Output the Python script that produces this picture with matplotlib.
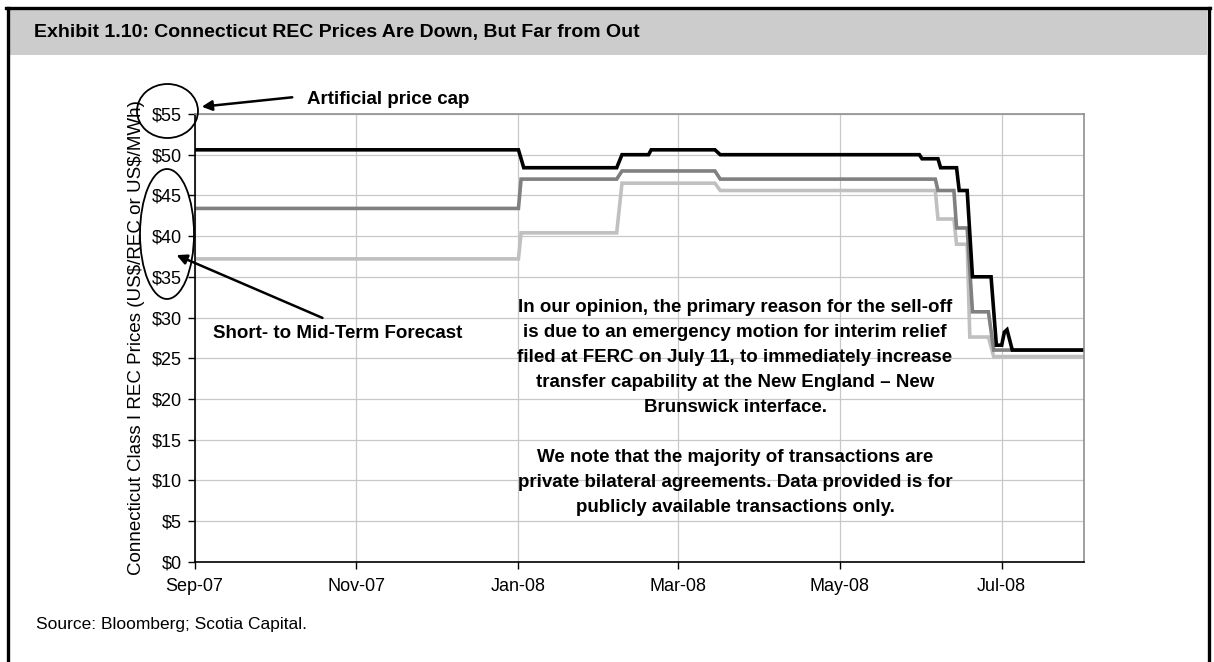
import matplotlib as mpl
mpl.use("Agg")
import matplotlib.pyplot as plt
import matplotlib.dates as mdates
from matplotlib.patches import Ellipse, Rectangle
from matplotlib.lines import Line2D
import pandas as pd

plt.rcParams["font.family"] = ["Liberation Sans", "DejaVu Sans"]

# price breakpoints (US$/REC)
high_dates = ["2007-09-01", "2008-01-01", "2008-01-03", "2008-02-07", "2008-02-09",
              "2008-02-19", "2008-02-20", "2008-03-15", "2008-03-17", "2008-05-31",
              "2008-06-01", "2008-06-07", "2008-06-08", "2008-06-14", "2008-06-15",
              "2008-06-18", "2008-06-20", "2008-06-27", "2008-06-29", "2008-07-01",
              "2008-07-02", "2008-07-03", "2008-07-05", "2008-08-01"]
high_vals = [50.6, 50.6, 48.4, 48.4, 50.0,
             50.0, 50.6, 50.6, 50.0, 50.0,
             49.5, 49.5, 48.4, 48.4, 45.6,
             45.6, 35.0, 35.0, 26.6, 26.6,
             28.2, 28.5, 26.0, 26.0]

mid_dates = ["2007-09-01", "2008-01-01", "2008-01-02", "2008-02-07", "2008-02-09",
             "2008-03-15", "2008-03-17", "2008-06-06", "2008-06-07", "2008-06-13",
             "2008-06-14", "2008-06-18", "2008-06-20", "2008-06-26", "2008-06-28",
             "2008-08-01"]
mid_vals = [43.4, 43.4, 47.0, 47.0, 48.0,
            48.0, 47.0, 47.0, 45.6, 45.6,
            41.0, 41.0, 30.7, 30.7, 26.0,
            26.0]

low_dates = ["2007-09-01", "2008-01-01", "2008-01-02", "2008-02-07", "2008-02-09",
             "2008-03-15", "2008-03-17", "2008-06-06", "2008-06-07", "2008-06-13",
             "2008-06-14", "2008-06-18", "2008-06-19", "2008-06-26", "2008-06-28",
             "2008-08-01"]
low_vals = [37.2, 37.2, 40.4, 40.4, 46.5,
            46.5, 45.6, 45.6, 42.1, 42.1,
            39.0, 39.0, 27.6, 27.6, 25.2,
            25.2]

y_ticks = list(range(0, 60, 5))

title = "Exhibit 1.10: Connecticut REC Prices Are Down, But Far from Out"
ylab = r"Connecticut Class I REC Prices (US\$/REC or US\$/MWh)"
note = ("In our opinion, the primary reason for the sell-off\n"
        "is due to an emergency motion for interim relief\n"
        "filed at FERC on July 11, to immediately increase\n"
        "transfer capability at the New England \u2013 New\n"
        "Brunswick interface.\n"
        "\n"
        "We note that the majority of transactions are\n"
        "private bilateral agreements. Data provided is for\n"
        "publicly available transactions only.")

W, H = 1214, 662
fig = plt.figure(figsize=(W / 100, H / 100), dpi=100, facecolor="w")

# header bar + frame
fig.add_artist(Rectangle((9 / W, 1 - 55 / H), 1198 / W, 46 / H,
                         transform=fig.transFigure, color="#cccccc", lw=0))
fig.add_artist(Line2D([7.5 / W, 7.5 / W], [0, 1 - 7.5 / H], transform=fig.transFigure, color="k", lw=2.4))
fig.add_artist(Line2D([1208.5 / W, 1208.5 / W], [0, 1 - 7.5 / H], transform=fig.transFigure, color="k", lw=2.4))
fig.add_artist(Line2D([6 / W, 1210 / W], [1 - 7.5 / H, 1 - 7.5 / H], transform=fig.transFigure, color="k", lw=2.4))
fig.text(34 / W, 1 - 33 / H, title, fontsize=14, weight="bold", va="center", ha="left")
fig.text(36 / W, 1 - 624 / H, "Source: Bloomberg; Scotia Capital.", fontsize=12.5, va="center", ha="left")

ax = fig.add_axes([194.5 / W, 1 - 561.7 / H, (1084 - 194.5) / W, (561.7 - 114) / H])

ax.plot(pd.to_datetime(low_dates), low_vals, color="#c0c0c0", lw=2.6, solid_joinstyle="miter")
ax.plot(pd.to_datetime(mid_dates), mid_vals, color="#808080", lw=2.6, solid_joinstyle="miter")
ax.plot(pd.to_datetime(high_dates), high_vals, color="#000000", lw=2.6, solid_joinstyle="miter")

ax.set_xlim(pd.Timestamp("2007-09-01"), pd.Timestamp("2008-08-01"))
ax.set_ylim(0, 55)
ax.set_yticks(y_ticks)
ax.yaxis.set_major_formatter(mpl.ticker.StrMethodFormatter("${x:.0f}"))
ax.xaxis.set_major_locator(mdates.MonthLocator(bymonth=[1, 3, 5, 7, 9, 11]))
ax.xaxis.set_major_formatter(mdates.DateFormatter("%b-%y"))
ax.grid(True, color="#c8c8c8", lw=0.9)
ax.set_axisbelow(True)
ax.tick_params(direction="out", length=5, width=1, labelsize=13, pad=4)
ax.tick_params(axis="x", pad=7)
for s in ["top", "right"]:
    ax.spines[s].set_color("#909090")
    ax.spines[s].set_linewidth(1.2)
for s in ["left", "bottom"]:
    ax.spines[s].set_color("k")
    ax.spines[s].set_linewidth(1.2)
ax.set_ylabel(ylab, fontsize=13.5, labelpad=5)

ax.text(0.6077, 0.3444, note, transform=ax.transAxes, ha="center", va="center",
        multialignment="center", fontsize=13.5, weight="bold", linespacing=1.62)

# callouts
fig.add_artist(Ellipse((167.5 / W, 1 - 111 / H), 61 / W, 54 / H, transform=fig.transFigure,
                       fill=False, ec="k", lw=1.3))
fig.add_artist(Ellipse((167 / W, 1 - 234 / H), 54 / W, 130 / H, transform=fig.transFigure,
                       fill=False, ec="k", lw=1.3))
fig.add_artist(mpl.patches.FancyArrowPatch((295 / W, 1 - 97 / H), (199 / W, 1 - 107 / H),
                                           transform=fig.transFigure, arrowstyle="-|>,head_length=6,head_width=3",
                                           color="k", lw=1.8, mutation_scale=1))
fig.add_artist(mpl.patches.FancyArrowPatch((325 / W, 1 - 319 / H), (174 / W, 1 - 254 / H),
                                           transform=fig.transFigure, arrowstyle="-|>,head_length=6,head_width=3",
                                           color="k", lw=1.8, mutation_scale=1))
fig.text(307 / W, 1 - 100 / H, "Artificial price cap", fontsize=13.5, weight="bold", va="center", ha="left")
fig.text(213 / W, 1 - 334 / H, "Short- to Mid-Term Forecast", fontsize=13.5, weight="bold", va="center", ha="left")

fig.savefig("out.png", dpi=100)
